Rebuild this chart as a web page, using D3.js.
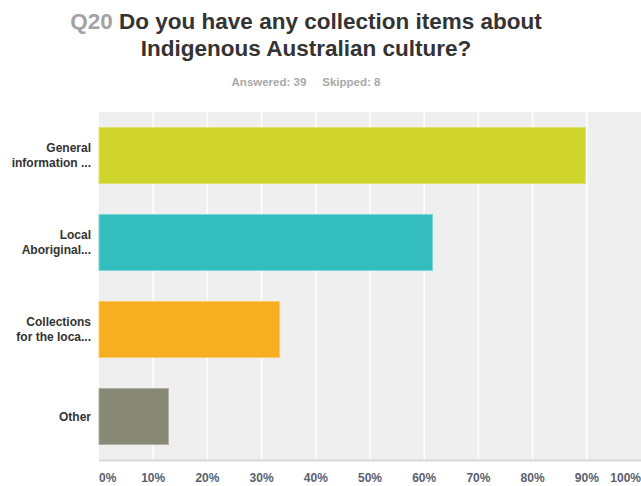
<!DOCTYPE html>
<html>
<head>
<meta charset="utf-8">
<script src="https://cdn.jsdelivr.net/npm/d3@7"></script>
<style>
  body { margin: 0; background: #fff; }
  svg text { font-family: "Liberation Sans", Arial, sans-serif; }
</style>
</head>
<body>
<div id="chart"></div>
<script>
// answer choices, in order from top to bottom
let categories = [
	["General", "information ..."],
	["Local", "Aboriginal..."],
	["Collections", "for the loca..."],
	["Other"]
];
let values = [89.74, 61.54, 33.33, 12.82];
let colors = ["#cfd52a", "#33bdbf", "#f7ae21", "#878775"];
let borders = ["#dfe26f", "#7dd6d7", "#fbcb73", "#b0b0a2"];
let ticks = [0, 10, 20, 30, 40, 50, 60, 70, 80, 90, 100];

let W = 641, H = 486;
let plotL = 99, plotR = 641, plotT = 112, plotB = 460;

let svg = d3.select("#chart").append("svg")
	.attr("width", W)
	.attr("height", H);

// title
let title = svg.append("text")
	.attr("x", 306)
	.attr("y", 29)
	.attr("text-anchor", "middle")
	.style("font-size", "22.5px")
	.style("font-weight", "bold");
title.append("tspan").attr("fill", "#a3a3a3").text("Q20 ");
title.append("tspan").attr("fill", "#333").text("Do you have any collection items about");
svg.append("text")
	.attr("x", 306)
	.attr("y", 56)
	.attr("text-anchor", "middle")
	.attr("fill", "#333")
	.style("font-size", "22.5px")
	.style("font-weight", "bold")
	.text("Indigenous Australian culture?");

svg.append("text")
	.attr("x", 306)
	.attr("y", 86)
	.attr("text-anchor", "middle")
	.attr("fill", "#a8a8a8")
	.style("font-size", "11.5px")
	.style("font-weight", "bold")
	.attr("xml:space", "preserve")
	.text("Answered: 39     Skipped: 8");

let x = d3.scaleLinear().domain([0, 100]).range([plotL, plotR]);
let y = d3.scaleBand()
	.domain(d3.range(categories.length))
	.range([plotT, plotB])
	.paddingInner(0.356)
	.paddingOuter(0.178);

// plot background
svg.append("rect")
	.attr("x", plotL)
	.attr("y", plotT)
	.attr("width", plotR - plotL)
	.attr("height", plotB - plotT)
	.attr("fill", "#efefef");

svg.selectAll("line.grid")
	.data(ticks.slice(1, -1))
	.enter().append("line")
	.attr("class", "grid")
	.attr("x1", d => x(d))
	.attr("x2", d => x(d))
	.attr("y1", plotT)
	.attr("y2", plotB)
	.attr("stroke", "#fff")
	.attr("stroke-width", 1.5);

// bottom axis line
svg.append("line")
	.attr("x1", plotL)
	.attr("x2", plotR)
	.attr("y1", plotB + 0.5)
	.attr("y2", plotB + 0.5)
	.attr("stroke", "#d8d8d8")
	.attr("stroke-width", 2);

svg.selectAll("rect.bar")
	.data(values)
	.enter().append("rect")
	.attr("class", "bar")
	.attr("x", x(0))
	.attr("y", (d, i) => y(i))
	.attr("width", d => x(d) - x(0))
	.attr("height", y.bandwidth())
	.attr("fill", (d, i) => colors[i])
	.attr("stroke", (d, i) => borders[i])
	.attr("stroke-width", 1);

// category labels
let labels = svg.selectAll("text.cat")
	.data(categories)
	.enter().append("text")
	.attr("class", "cat")
	.attr("text-anchor", "end")
	.attr("fill", "#333")
	.style("font-size", "12px")
	.style("font-weight", "bold");
labels.each(function(d, i) {
	let cy = y(i) + y.bandwidth() / 2;
	let start = cy + 4 - (d.length - 1) * 7.5;
	d3.select(this).selectAll("tspan")
		.data(d)
		.enter().append("tspan")
		.attr("x", 91)
		.attr("y", (t, j) => start + j * 15)
		.text(t => t);
});

// tick labels
svg.selectAll("text.tick")
	.data(ticks)
	.enter().append("text")
	.attr("class", "tick")
	.attr("x", d => x(d))
	.attr("y", 482)
	.attr("text-anchor", d => d === 0 ? "start" : (d === 100 ? "end" : "middle"))
	.attr("fill", "#5a6070")
	.style("font-size", "12px")
	.style("font-weight", "bold")
	.text(d => d + "%");
</script>
</body>
</html>
